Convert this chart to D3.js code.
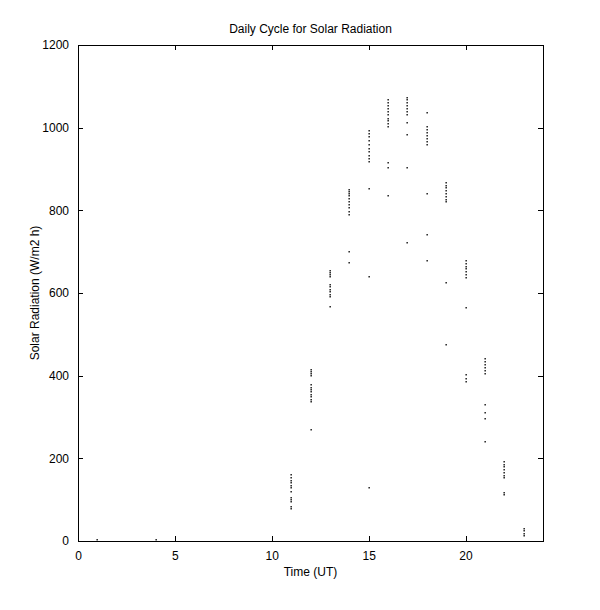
<!DOCTYPE html>
<html>
<head>
<meta charset="utf-8">
<script src="https://cdn.jsdelivr.net/npm/d3@7"></script>
<style>
  body { margin: 0; background: #fff; }
  svg { display: block; }
  text { font-family: "Liberation Sans", Arial, sans-serif; font-size: 12px; fill: #000; }
</style>
</head>
<body>
<svg id="chart" width="600" height="610"></svg>
<script>
// Hours (UT) and observed solar radiation values (W/m2 h) at each hour
const hours = [1, 4, 11, 12, 13, 14, 15, 16, 17, 18, 19, 20, 21, 22, 23];
const radiation = [
  [2],
  [2],
  [160, 153, 146, 140, 133, 128, 118, 104, 99, 94, 82, 77],
  [414, 410, 405, 398, 377, 370, 365, 360, 354, 348, 342, 336, 268],
  [653, 648, 643, 638, 620, 614, 608, 602, 596, 590, 566],
  [849, 845, 840, 835, 828, 820, 812, 805, 797, 789, 699, 672],
  [992, 985, 978, 968, 958, 948, 940, 932, 925, 917, 852, 639, 128],
  [1067, 1060, 1052, 1045, 1038, 1030, 1022, 1015, 1008, 1002, 915, 902, 835],
  [1072, 1066, 1060, 1052, 1045, 1038, 1030, 1011, 982, 903, 721],
  [1035, 1002, 995, 988, 980, 972, 965, 958, 840, 740, 677],
  [866, 860, 853, 846, 840, 833, 826, 820, 624, 474],
  [677, 670, 664, 657, 650, 643, 636, 564, 402, 392, 384],
  [440, 433, 426, 419, 412, 405, 329, 310, 295, 240],
  [191, 185, 178, 171, 164, 157, 152, 116, 111],
  [29, 24, 18, 12]
];
const xTicks = [0, 5, 10, 15, 20];
const yTicks = [0, 200, 400, 600, 800, 1000, 1200];
const titleText = "Daily Cycle for Solar Radiation";
const xLabel = "Time (UT)";
const yLabel = "Solar Radiation (W/m2 h)";

const points = [];
hours.forEach((h, i) => radiation[i].forEach(v => points.push({ h, v })));

const svg = d3.select("#chart");
const L = 78, R = 543, T = 45, B = 541;
const x = d3.scaleLinear().domain([0, 24]).range([L, R]);
const y = d3.scaleLinear().domain([0, 1200]).range([B, T]);

// Frame
svg.append("rect").attr("x", L).attr("y", T).attr("width", R - L).attr("height", B - T)
  .attr("fill", "none").attr("stroke", "#000").attr("stroke-width", 1).attr("shape-rendering", "crispEdges");

const tl = 5;
const fmt = d3.format("d");
// Axes with inward ticks
const xb = svg.append("g").attr("transform", `translate(0,${B})`)
  .call(d3.axisBottom(x).tickValues(xTicks).tickFormat(fmt).tickSizeInner(-tl).tickSizeOuter(0).tickPadding(tl + 5));
const xt = svg.append("g").attr("transform", `translate(0,${T})`)
  .call(d3.axisTop(x).tickValues(xTicks).tickSizeInner(-tl).tickSizeOuter(0).tickFormat(""));
const yl = svg.append("g").attr("transform", `translate(${L},0)`)
  .call(d3.axisLeft(y).tickValues(yTicks).tickFormat(fmt).tickSizeInner(-tl).tickSizeOuter(0).tickPadding(tl + 4));
const yr = svg.append("g").attr("transform", `translate(${R},0)`)
  .call(d3.axisRight(y).tickValues(yTicks).tickSizeInner(-tl).tickSizeOuter(0).tickFormat(""));
[xb, xt, yl, yr].forEach(g => {
  g.select(".domain").attr("stroke", "#000").attr("shape-rendering", "crispEdges");
  g.selectAll(".tick line").attr("stroke", "#000").attr("shape-rendering", "crispEdges");
  g.selectAll("text").attr("font-family", "Liberation Sans, Arial, sans-serif").attr("font-size", 12).attr("fill", "#000");
});

// Data points
svg.append("g").selectAll("rect").data(points).enter().append("rect")
  .attr("x", d => Math.round(x(d.h)) - 0.5)
  .attr("y", d => Math.round(y(d.v)) - 1)
  .attr("width", 1.3).attr("height", 1.5)
  .attr("fill", "#000");

// Labels
svg.append("text").attr("x", (L + R) / 2).attr("y", 33).attr("text-anchor", "middle").text(titleText);
svg.append("text").attr("x", (L + R) / 2).attr("y", 576).attr("text-anchor", "middle").text(xLabel);
svg.append("text").attr("transform", `translate(39,${(T + B) / 2}) rotate(-90)`)
  .attr("text-anchor", "middle").text(yLabel);
</script>
</body>
</html>
